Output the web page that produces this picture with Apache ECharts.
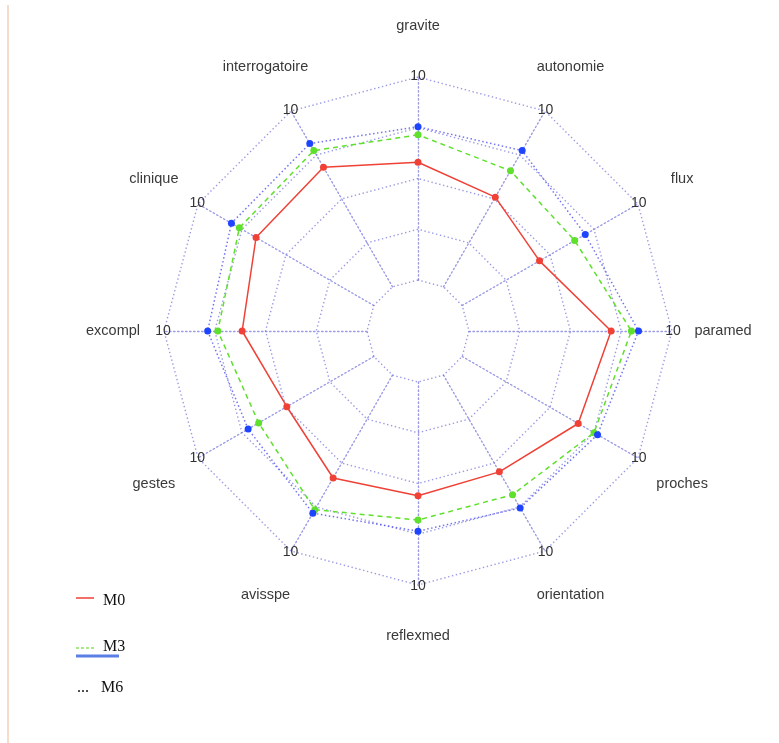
<!DOCTYPE html>
<html>
<head>
<meta charset="utf-8">
<script src="https://cdn.jsdelivr.net/npm/echarts@6/dist/echarts.min.js"></script>
<style>
html,body{margin:0;padding:0;background:#fff;}
#chart{width:779px;height:743px;}
</style>
</head>
<body>
<div id="chart"></div>
<script>
// Axes in drawing order (counter-clockwise from the top)
const categories = ['gravite','interrogatoire','clinique','excompl','gestes','avisspe','reflexmed','orientation','proches','paramed','flux','autonomie'];
const axisMin = 0;
const axisMax = 10;
const tickLabel = '10';
const seriesNames = ['M0','M3','M6'];
const m0 = [5.8, 6.8, 6.7, 6.15, 4.95, 5.85, 5.6, 5.5, 6.6, 7.0, 4.4, 5.1];
const m3 = [7.15, 7.75, 7.65, 7.35, 6.55, 7.65, 6.8, 6.8, 7.5, 8.0, 6.4, 6.6];
const m6 = [7.55, 8.15, 8.1, 7.85, 7.15, 7.85, 7.35, 7.55, 7.7, 8.35, 7.0, 7.75];

const cx = 418, cy = 331, rIn = 51, rOut = 254;
const chart = echarts.init(document.getElementById('chart'), null, {renderer:'canvas'});

const gridColor = 'rgba(100,100,215,0.65)';
const graphics = [];
// left border line
graphics.push({type:'line', shape:{x1:8,y1:5,x2:8,y2:743}, style:{stroke:'#f6dccb', lineWidth:2}});
const n = categories.length;
categories.forEach((c,i)=>{
  const a = (90 + i*360/n) * Math.PI/180;
  graphics.push({type:'text', x: cx + 305*Math.cos(a), y: cy - 305*Math.sin(a),
    style:{text:c, font:'14.5px "Liberation Sans", Arial, sans-serif', fill:'#3a3a3a', align:'center', verticalAlign:'middle'}});
  graphics.push({type:'text', x: cx + 255*Math.cos(a), y: cy - 255*Math.sin(a), z:10,
    style:{text:tickLabel, font:'14px "Liberation Sans", Arial, sans-serif', fill:'#333', align:'center', verticalAlign:'middle'}});
});
// legend
const lf = '16px "Liberation Serif", "Times New Roman", serif';
graphics.push({type:'line', shape:{x1:76,y1:598,x2:94,y2:598}, style:{stroke:'#ef4136', lineWidth:1.5}});
graphics.push({type:'text', x:103, y:601, style:{text:seriesNames[0], font:lf, fill:'#111', verticalAlign:'middle'}});
graphics.push({type:'line', shape:{x1:76,y1:648,x2:94,y2:648}, style:{stroke:'#8ee060', lineWidth:1.5, lineDash:[3,2]}});
graphics.push({type:'text', x:103, y:647, style:{text:seriesNames[1], font:lf, fill:'#111', verticalAlign:'middle'}});
graphics.push({type:'line', shape:{x1:76,y1:656,x2:119,y2:656}, style:{stroke:'#5b7fe6', lineWidth:3}});
graphics.push({type:'text', x:77, y:688, style:{text:'...', font:lf, fill:'#111', verticalAlign:'middle'}});
graphics.push({type:'text', x:101, y:688, style:{text:seriesNames[2], font:lf, fill:'#111', verticalAlign:'middle'}});

chart.setOption({
  animation:false,
  backgroundColor:'#fff',
  radar:{
    center:[cx, cy],
    radius:[rIn, rOut],
    startAngle:90,
    splitNumber:4,
    shape:'polygon',
    indicator: categories.map(c=>({name:c, min:axisMin, max:axisMax})),
    axisName:{show:false},
    axisLabel:{show:false},
    axisTick:{show:false},
    splitArea:{show:false},
    splitLine:{lineStyle:{color:gridColor, type:[1.4,2.6], width:1.4}},
    axisLine:{lineStyle:{color:gridColor, type:[1.4,2.6], width:1.4}}
  },
  series:[{
    type:'radar',
    symbol:'circle',
    symbolSize:7,
    data:[
      {name:seriesNames[0], value:m0, lineStyle:{color:'#ef4136', width:1.5, type:'solid'}, itemStyle:{color:'#ef4136'}},
      {name:seriesNames[1], value:m3, lineStyle:{color:'#5fe02c', width:1.5, type:[5,4]}, itemStyle:{color:'#5fe02c'}},
      {name:seriesNames[2], value:m6, lineStyle:{color:'rgba(70,70,235,0.75)', width:1.5, type:[1.5,2.5]}, itemStyle:{color:'#1f44ff'}}
    ]
  }],
  graphic: graphics
});
</script>
</body>
</html>
